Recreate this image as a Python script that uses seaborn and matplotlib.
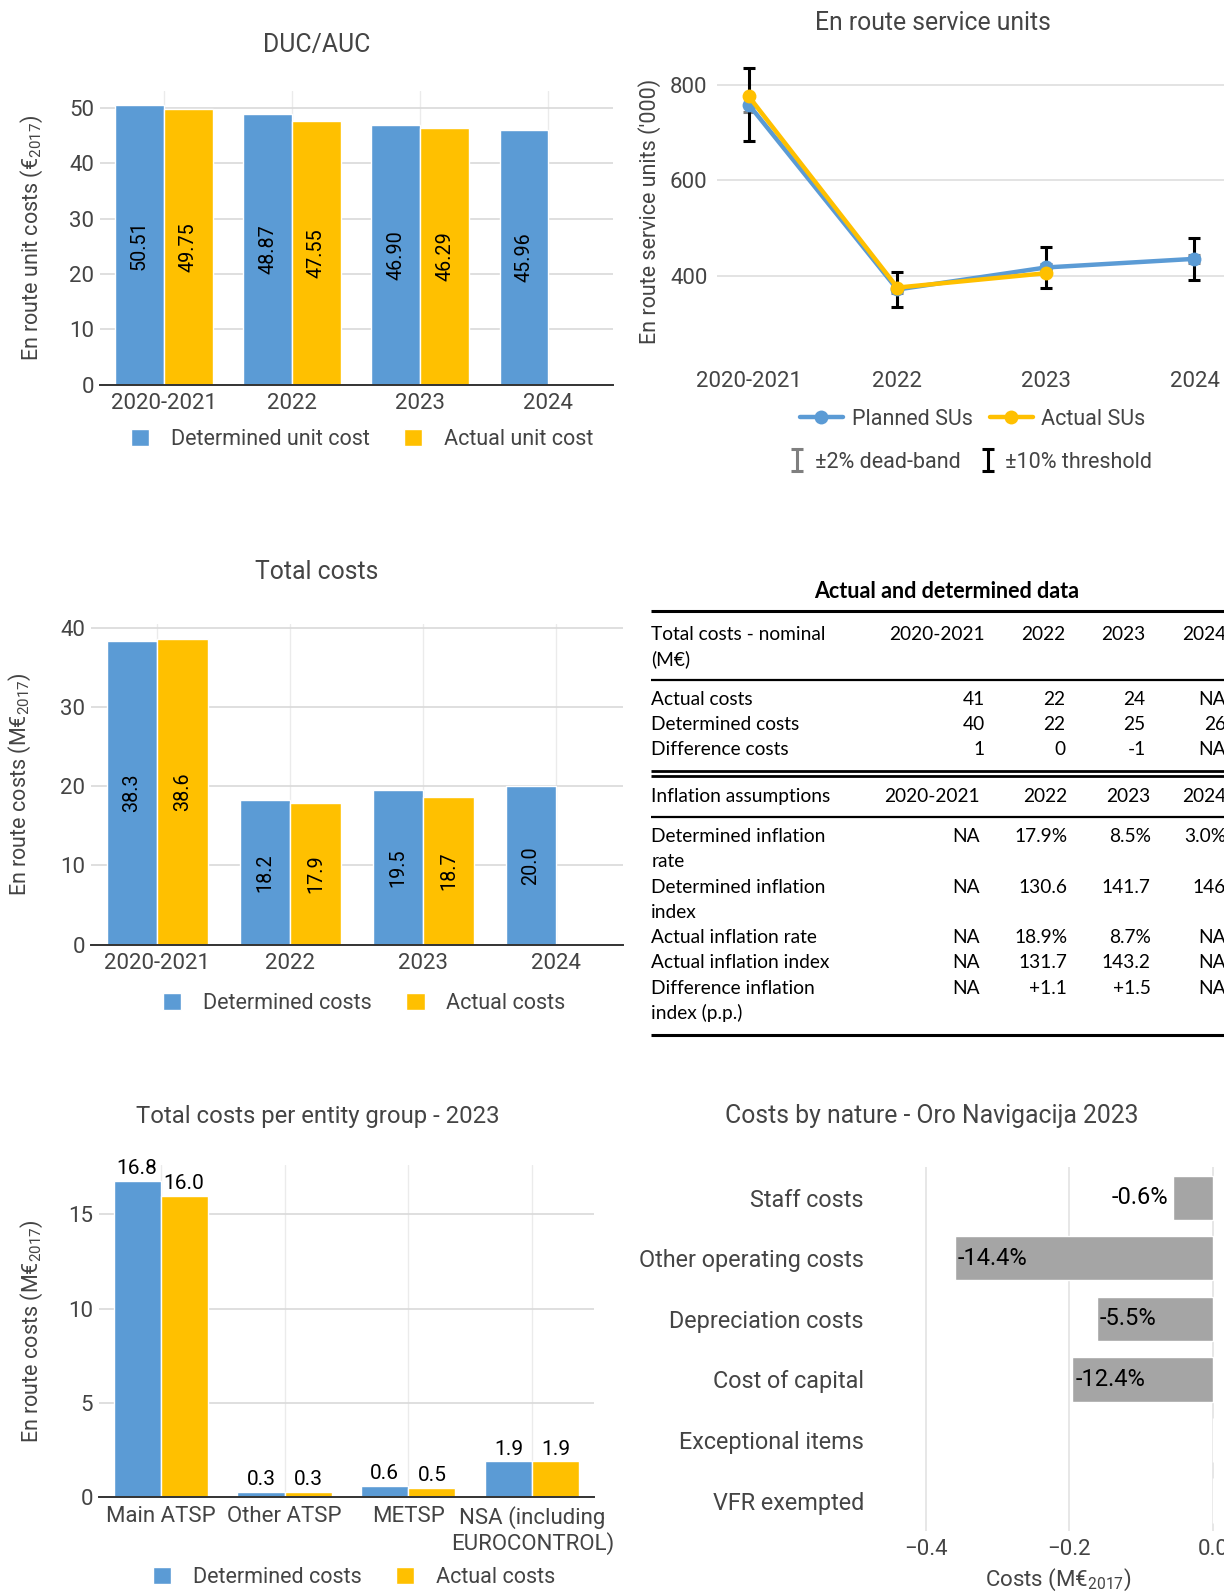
import numpy as np
import pandas as pd
import matplotlib
matplotlib.use("Agg")
import matplotlib.pyplot as plt
import seaborn as sns
from matplotlib.patches import Patch
from matplotlib.lines import Line2D

years = ["2020-2021", "2022", "2023", "2024"]
duc = [50.51, 48.87, 46.90, 45.96]
auc = [49.75, 47.55, 46.29, np.nan]

su_planned = [758, 372, 418, 436]
su_actual = [775, 376, 406, np.nan]
su_deadband = [15, 7, 8, 9]
su_threshold = [76, 37, 42, 44]

cost_det = [38.3, 18.2, 19.5, 20.0]
cost_act = [38.6, 17.9, 18.7, np.nan]

entities = ["Main ATSP", "Other ATSP", "METSP", "NSA (including\nEUROCONTROL)"]
ent_det = [16.8, 0.3, 0.6, 1.9]
ent_act = [16.0, 0.3, 0.5, 1.9]

natures = ["Staff costs", "Other operating costs", "Depreciation costs",
           "Cost of capital", "Exceptional items", "VFR exempted"]
nature_diff = [-0.055, -0.36, -0.162, -0.196, 0.0, 0.0]
nature_pct = ["-0.6%", "-14.4%", "-5.5%", "-12.4%", "", ""]

nominal_head = "Total costs - nominal\n(M€)"
nominal_rows = ["Actual costs", "Determined costs", "Difference costs"]
nominal_vals = [["41", "22", "24", "NA"],
                ["40", "22", "25", "26"],
                ["1", "0", "-1", "NA"]]
infl_head = "Inflation assumptions"
infl_rows = ["Determined inflation\nrate", "Determined inflation\nindex",
             "Actual inflation rate", "Actual inflation index",
             "Difference inflation\nindex (p.p.)"]
infl_vals = [["NA", "17.9%", "8.5%", "3.0%"],
             ["NA", "130.6", "141.7", "146"],
             ["NA", "18.9%", "8.7%", "NA"],
             ["NA", "131.7", "143.2", "NA"],
             ["NA", "+1.1", "+1.5", "NA"]]

BLUE = "#5B9BD5"
YELLOW = "#FFC000"
GREY = "#A5A5A5"
TXT = "#444444"

TITLE_FS = 17.8
TICK_FS = 16
LEG_FS = 15.5
YLAB_FS = 15.5

sns.set_style("white")
plt.rcParams["font.family"] = ["Roboto", "DejaVu Sans"]
plt.rcParams["mathtext.fontset"] = "custom"
plt.rcParams["mathtext.rm"] = "Roboto"
plt.rcParams["mathtext.default"] = "regular"

W, H = 1203, 1568
fig = plt.figure(figsize=(12.24, 15.96), dpi=100)


def box(l, t, r, b):
    return [l / W, 1 - b / H, (r - l) / W, (b - t) / H]


def style_bar_axes(ax):
    ax.set_axisbelow(True)
    for s in ["top", "right", "left"]:
        ax.spines[s].set_visible(False)
    ax.spines["bottom"].set_color("#333333")
    ax.spines["bottom"].set_linewidth(1.4)
    ax.grid(axis="y", color="#d9d9d9", lw=1.2)
    ax.grid(axis="x", color="#ebebeb", lw=1)
    ax.tick_params(axis="y", length=0, labelsize=TICK_FS, colors=TXT, pad=4)
    ax.tick_params(axis="x", length=0, labelsize=TICK_FS, colors=TXT, pad=6)
    ax.set_xlabel("")


def bar_legend(labels, cx, cy):
    fig.legend(handles=[Patch(facecolor=BLUE), Patch(facecolor=YELLOW)], labels=labels,
               loc="center", bbox_to_anchor=(cx / W, 1 - cy / H), ncol=2, frameon=False,
               fontsize=LEG_FS, handlelength=0.85, handleheight=0.85, handletextpad=1.0,
               columnspacing=1.6, labelcolor=TXT, borderpad=0)


# DUC/AUC
ax1 = fig.add_axes(box(98, 89, 602, 378))
df1 = pd.DataFrame({"year": years * 2, "value": duc + auc,
                    "series": ["Determined"] * 4 + ["Actual"] * 4}).dropna()
sns.barplot(data=df1, x="year", y="value", hue="series", order=years,
            hue_order=["Determined", "Actual"], palette=[BLUE, YELLOW], saturation=1,
            width=0.76, errorbar=None, legend=False, ax=ax1)
for c in ax1.containers:
    ax1.bar_label(c, fmt="%.2f", label_type="center", rotation=90, fontsize=14.2, color="black")
ax1.set_xlim(-0.5, 3.5)
ax1.set_ylim(0, 53.1)
ax1.set_yticks([0, 10, 20, 30, 40, 50])
style_bar_axes(ax1)
ax1.set_ylabel(r"En route unit costs (€$_{2017}$)", fontsize=YLAB_FS, color=TXT)
ax1.yaxis.set_label_coords(-0.107, 0.5)
fig.text(311 / W, 1 - 44 / H, "DUC/AUC", ha="center", va="center", fontsize=TITLE_FS, color=TXT)
bar_legend(["Determined unit cost", "Actual unit cost"], 356, 432)

# En route service units
ax2 = fig.add_axes(box(705, 59.5, 1240, 355))
x = np.arange(len(years))
eb_dead = ax2.errorbar(x, su_planned, yerr=su_deadband, fmt="none", ecolor="#7f7f7f",
                       elinewidth=2.2, capsize=4.5, capthick=2.2, zorder=2)
eb_thr = ax2.errorbar(x, su_planned, yerr=su_threshold, fmt="none", ecolor="black",
                      elinewidth=2.2, capsize=4.5, capthick=2.2, zorder=2)
df_p = pd.DataFrame({"x": x, "y": su_planned})
df_a = pd.DataFrame({"x": x, "y": su_actual}).dropna()
sns.lineplot(data=df_p, x="x", y="y", color=BLUE, lw=3.2, marker="o", markersize=10,
             markeredgewidth=0, ax=ax2, zorder=3)
sns.lineplot(data=df_a, x="x", y="y", color=YELLOW, lw=3.2, marker="o", markersize=10,
             markeredgewidth=0, ax=ax2, zorder=4)
ax2.set_xlim(-0.212, 3.452)
ax2.set_ylim(222, 850)
ax2.set_xticks(x, years)
ax2.set_yticks([400, 600, 800])
for s in ax2.spines.values():
    s.set_visible(False)
ax2.grid(axis="y", color="#dedede", lw=1.2)
ax2.grid(axis="x", visible=False)
ax2.set_axisbelow(True)
ax2.tick_params(length=0, labelsize=TICK_FS, colors=TXT, pad=7)
ax2.set_xlabel("")
ax2.set_ylabel("En route service units ('000)", fontsize=YLAB_FS, color=TXT)
ax2.yaxis.set_label_coords(-0.103, 0.5)
fig.text(917 / W, 1 - 23 / H, "En route service units", ha="center", va="center",
         fontsize=TITLE_FS, color=TXT)
line_handles = [Line2D([], [], color=BLUE, lw=3.2, marker="o", markersize=10, markeredgewidth=0),
                Line2D([], [], color=YELLOW, lw=3.2, marker="o", markersize=10, markeredgewidth=0)]
fig.legend(handles=line_handles, labels=["Planned SUs", "Actual SUs"], loc="center",
           bbox_to_anchor=(956 / W, 1 - 412 / H), ncol=2, frameon=False, fontsize=LEG_FS,
           handlelength=2.0, handletextpad=0.4, columnspacing=0.8, labelcolor=TXT, borderpad=0)
fig.legend(handles=[eb_dead, eb_thr], labels=["±2% dead-band", "±10% threshold"], loc="center",
           bbox_to_anchor=(955 / W, 1 - 454 / H), ncol=2, frameon=False, fontsize=LEG_FS,
           handlelength=0.6, handletextpad=0.5, columnspacing=1.0, labelcolor=TXT, borderpad=0)

# Total costs
ax3 = fig.add_axes(box(89, 613, 612, 928))
df3 = pd.DataFrame({"year": years * 2, "value": cost_det + cost_act,
                    "series": ["Determined"] * 4 + ["Actual"] * 4}).dropna()
sns.barplot(data=df3, x="year", y="value", hue="series", order=years,
            hue_order=["Determined", "Actual"], palette=[BLUE, YELLOW], saturation=1,
            width=0.76, errorbar=None, legend=False, ax=ax3)
for c in ax3.containers:
    ax3.bar_label(c, fmt="%.1f", label_type="center", rotation=90, fontsize=14.2, color="black")
ax3.set_xlim(-0.5, 3.5)
ax3.set_ylim(0, 40.5)
ax3.set_yticks([0, 10, 20, 30, 40])
style_bar_axes(ax3)
ax3.set_ylabel(r"En route costs (M€$_{2017}$)", fontsize=YLAB_FS, color=TXT)
ax3.yaxis.set_label_coords(-0.108, 0.5)
fig.text(311 / W, 1 - 562 / H, "Total costs", ha="center", va="center", fontsize=TITLE_FS, color=TXT)
bar_legend(["Determined costs", "Actual costs"], 358, 986)

# Total costs per entity group
ax5 = fig.add_axes(box(97, 1145, 584, 1471))
df5 = pd.DataFrame({"entity": entities * 2, "value": ent_det + ent_act,
                    "series": ["Determined"] * 4 + ["Actual"] * 4})
sns.barplot(data=df5, x="entity", y="value", hue="series", order=entities,
            hue_order=["Determined", "Actual"], palette=[BLUE, YELLOW], saturation=1,
            width=0.76, errorbar=None, legend=False, ax=ax5)
for c in ax5.containers:
    ax5.bar_label(c, fmt="%.1f", padding=2, fontsize=15, color="black")
ax5.set_xlim(-0.5, 3.5)
ax5.set_ylim(0, 17.6)
ax5.set_yticks([0, 5, 10, 15])
style_bar_axes(ax5)
ax5.set_ylabel(r"En route costs (M€$_{2017}$)", fontsize=YLAB_FS, color=TXT)
ax5.yaxis.set_label_coords(-0.108, 0.5)
fig.text(312 / W, 1 - 1097 / H, "Total costs per entity group - 2023", ha="center", va="center",
         fontsize=17.2, color=TXT)
bar_legend(["Determined costs", "Actual costs"], 348, 1550)

# Costs by nature
ax6 = fig.add_axes(box(875, 1147, 1206, 1504))
sns.barplot(x=nature_diff, y=natures, orient="h", color=GREY, saturation=1, width=0.73,
            errorbar=None, ax=ax6)
for i, (v, t) in enumerate(zip(nature_diff, nature_pct)):
    if not t:
        continue
    if v < -0.1:
        ax6.text(v + 0.004, i, t, ha="left", va="center", fontsize=17, color="black")
    else:
        ax6.text(v - 0.007, i, t, ha="right", va="center", fontsize=17, color="black")
ax6.set_xlim(-0.45, 0.02)
ax6.set_ylim(5.5, -0.5)
ax6.set_xticks([-0.4, -0.2, 0.0])
for s in ax6.spines.values():
    s.set_visible(False)
ax6.grid(axis="x", color="#e3e3e3", lw=1.2)
ax6.grid(axis="y", visible=False)
ax6.set_axisbelow(True)
ax6.tick_params(axis="x", length=0, labelsize=TICK_FS, colors=TXT, pad=6)
ax6.tick_params(axis="y", length=0, labelsize=16.8, colors=TXT, pad=19)
ax6.set_ylabel("")
ax6.set_xlabel(r"Costs (M€$_{2017}$)", fontsize=16, color=TXT, labelpad=5)
fig.text(916 / W, 1 - 1096 / H, "Costs by nature - Oro Navigacija 2023", ha="center",
         va="center", fontsize=TITLE_FS, color=TXT)

# Table: Actual and determined data
tab = fig.add_axes([0, 0, 1, 1])
tab.set_xlim(0, W)
tab.set_ylim(H, 0)
tab.axis("off")
TF = ["Lato", "DejaVu Sans"]
TFS = 13.8
tab.text(930, 581, "Actual and determined data", ha="center", va="center", fontsize=15.5,
         fontweight="bold", family=TF, color="black")


def rule(y, lw):
    tab.plot([640, 1240], [y, y], color="black", lw=lw, solid_capstyle="butt")


LS = 24.8
rule(600, 2.2)
for k, line in enumerate(nominal_head.split("\n")):
    tab.text(640, 623 + k * LS, line, ha="left", va="center", fontsize=TFS, family=TF, color="black")
cols1 = [968, 1047, 1126, 1205]
for cx, yr in zip(cols1, years):
    tab.text(cx, 623, yr, ha="right", va="center", fontsize=TFS, family=TF, color="black")
rule(668, 1.6)
for r, (lab, vals) in enumerate(zip(nominal_rows, nominal_vals)):
    yy = 687 + r * LS
    tab.text(640, yy, lab, ha="left", va="center", fontsize=TFS, family=TF, color="black")
    for cx, v in zip(cols1, vals):
        tab.text(cx, yy, v, ha="right", va="center", fontsize=TFS, family=TF, color="black")
rule(757, 2.0)
rule(762, 2.0)
tab.text(640, 783, infl_head, ha="left", va="center", fontsize=TFS, family=TF, color="black")
cols2 = [963, 1049, 1131, 1205]
for cx, yr in zip(cols2, years):
    tab.text(cx, 783, yr, ha="right", va="center", fontsize=TFS, family=TF, color="black")
rule(803, 1.6)
yy = 822
for lab, vals in zip(infl_rows, infl_vals):
    lines = lab.split("\n")
    for k, line in enumerate(lines):
        tab.text(640, yy + k * LS, line, ha="left", va="center", fontsize=TFS, family=TF, color="black")
    for cx, v in zip(cols2, vals):
        tab.text(cx, yy, v, ha="right", va="center", fontsize=TFS, family=TF, color="black")
    yy += len(lines) * LS
rule(1017, 2.2)

fig.savefig("out.png", dpi=100)
